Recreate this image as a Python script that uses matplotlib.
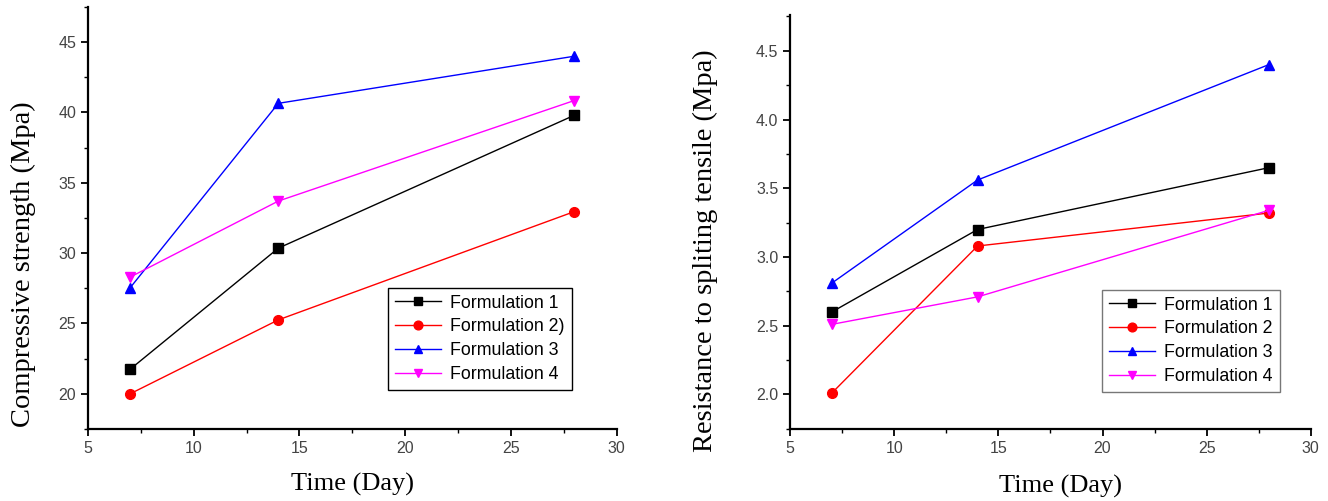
import matplotlib
matplotlib.use('Agg')
import matplotlib.pyplot as plt
from matplotlib.ticker import MultipleLocator

# ─── Data ─────────────────────────────────────────────────────────────────────
days = [7, 14, 28]

comp_f1 = [21.75, 30.35, 39.8]
comp_f2 = [20.0, 25.25, 32.95]
comp_f3 = [27.55, 40.65, 44.0]
comp_f4 = [28.3, 33.7, 40.85]

tens_f1 = [2.60, 3.20, 3.65]
tens_f2 = [2.01, 3.08, 3.32]
tens_f3 = [2.81, 3.56, 4.40]
tens_f4 = [2.51, 2.71, 3.34]

labels_left = ['Formulation 1', 'Formulation 2)', 'Formulation 3', 'Formulation 4']
labels_right = ['Formulation 1', 'Formulation 2', 'Formulation 3', 'Formulation 4']

colors = ['black', 'red', 'blue', 'magenta']
markers = ['s', 'o', '^', 'v']

# ─── Figure ───────────────────────────────────────────────────────────────────
fig = plt.figure(figsize=(13.28, 5.01), dpi=100)
ax1 = fig.add_axes([0.0663, 0.144, 0.398, 0.842])
ax2 = fig.add_axes([0.595, 0.144, 0.392, 0.826])


def style_axes(ax, ylabel, ylim, ymajor, yminor, labels, series, legend_edge,
               legend_anchor, ylabel_xy, xlabel_xy):
    for vals, c, m, lab in zip(series, colors, markers, labels):
        ax.plot(days, vals, color=c, marker=m, markersize=7, linewidth=1.0, label=lab)
    ax.set_xlim(5, 30)
    ax.set_ylim(*ylim)
    ax.xaxis.set_major_locator(MultipleLocator(5))
    ax.xaxis.set_minor_locator(MultipleLocator(2.5))
    ax.yaxis.set_major_locator(MultipleLocator(ymajor))
    ax.yaxis.set_minor_locator(MultipleLocator(yminor))
    for side in ['top', 'right']:
        ax.spines[side].set_visible(False)
    for side in ['left', 'bottom']:
        ax.spines[side].set_linewidth(1.6)
    ax.tick_params(which='major', direction='out', length=5, width=1.3,
                   labelsize=11.5, labelcolor='#444444')
    ax.tick_params(which='minor', direction='out', length=3, width=1.0)
    for t in ax.get_xticklabels() + ax.get_yticklabels():
        t.set_fontfamily('Liberation Sans')
    ax.set_xlabel('Time (Day)', fontsize=19, family='Liberation Serif')
    ax.set_ylabel(ylabel, fontsize=20.5, family='Liberation Serif')
    ax.yaxis.set_label_coords(*ylabel_xy)
    ax.xaxis.set_label_coords(*xlabel_xy)
    leg = ax.legend(loc='lower right', bbox_to_anchor=legend_anchor,
                    prop={'family': 'Liberation Sans', 'size': 12.8},
                    fancybox=False, framealpha=1, edgecolor=legend_edge,
                    handlelength=2.6, handletextpad=0.5, labelspacing=0.38,
                    borderpad=0.4, borderaxespad=0, markerscale=0.9)
    leg.get_frame().set_linewidth(1.0)


style_axes(ax1, 'Compressive strength (Mpa)', (17.5, 47.5), 5, 2.5, labels_left,
           [comp_f1, comp_f2, comp_f3, comp_f4], 'black', (0.915, 0.092),
           (-0.098, 0.39), (0.5, -0.104))
style_axes(ax2, 'Resistance to spliting tensile (Mpa)', (1.75, 4.76), 0.5, 0.25, labels_right,
           [tens_f1, tens_f2, tens_f3, tens_f4], '#777777', (0.94, 0.089),
           (-0.138, 0.43), (0.52, -0.112))

fig.savefig('out.png', dpi=100)
